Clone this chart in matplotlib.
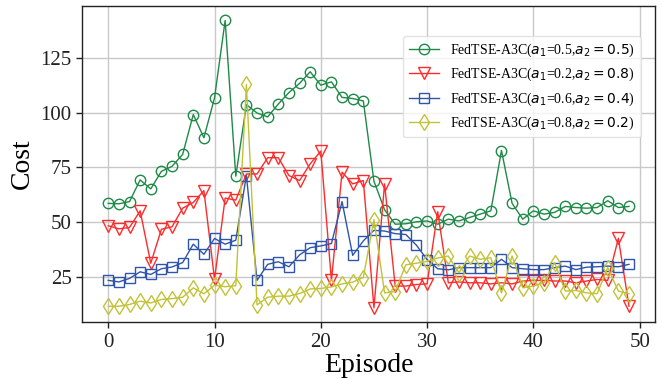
import numpy as np
import matplotlib
matplotlib.use("Agg")
import matplotlib.pyplot as plt

plt.rcParams['font.family'] = ['Liberation Serif', 'DejaVu Serif']
plt.rcParams['mathtext.fontset'] = 'dejavusans'

episodes = np.arange(50)

# Cost per episode
cost_55 = [58.6, 58.4, 59.4, 69.3, 65.2, 73.2, 75.5, 80.9, 99.1, 88.5,
           106.7, 142.0, 71.0, 103.6, 99.8, 98.0, 103.9, 109.1, 113.3, 118.6,
           112.5, 114.0, 106.9, 106.4, 105.3, 68.7, 55.7, 49.1, 49.3, 50.2,
           50.6, 49.1, 51.4, 50.6, 52.2, 53.7, 55.2, 82.7, 58.6, 51.4,
           55.2, 53.7, 54.5, 57.2, 56.7, 56.4, 56.7, 59.8, 56.7, 57.2]
cost_28 = [48.4, 47.0, 47.6, 55.2, 31.3, 46.8, 47.9, 56.4, 59.0, 64.4,
           24.0, 61.0, 60.1, 72.0, 72.0, 79.4, 79.4, 71.3, 69.0, 76.6,
           82.4, 23.5, 72.8, 67.5, 69.0, 11.0, 67.5, 20.9, 20.9, 21.6,
           21.9, 54.8, 22.4, 22.8, 22.4, 22.4, 21.9, 22.4, 21.9, 23.2,
           23.5, 23.5, 23.2, 23.2, 22.4, 23.2, 23.9, 23.5, 42.7, 11.7]
cost_64 = [23.5, 22.8, 24.4, 27.4, 26.2, 28.8, 29.6, 31.6, 40.0, 35.4,
           42.6, 40.0, 41.8, 71.3, 23.5, 30.8, 32.0, 29.7, 35.1, 38.4,
           39.2, 40.3, 59.4, 34.9, 41.5, 46.3, 46.0, 44.8, 44.4, 39.5,
           33.0, 28.8, 28.3, 29.3, 29.3, 29.3, 29.3, 33.1, 29.3, 28.8,
           28.4, 28.4, 29.3, 30.0, 28.4, 29.5, 29.7, 30.0, 29.7, 30.8]
cost_82 = [11.7, 11.7, 12.5, 14.0, 13.2, 14.8, 15.2, 15.8, 20.1, 17.4,
           21.3, 20.6, 21.1, 112.8, 12.3, 15.8, 16.3, 16.3, 17.5, 19.6,
           19.8, 20.5, 21.9, 22.7, 24.8, 51.2, 17.8, 18.4, 30.6, 31.3,
           32.2, 33.7, 34.6, 27.0, 34.6, 33.1, 33.8, 17.8, 34.6, 20.1,
           20.9, 22.4, 31.6, 18.6, 18.9, 17.8, 17.4, 29.3, 18.6, 17.4]

labels = [r'FedTSE-A3C($a_1$=0.5,$a_2 = 0.5$)',
          r'FedTSE-A3C($a_1$=0.2,$a_2 = 0.8$)',
          r'FedTSE-A3C($a_1$=0.6,$a_2 = 0.4$)',
          r'FedTSE-A3C($a_1$=0.8,$a_2 = 0.2$)']

fig, ax = plt.subplots(figsize=(6.63, 3.79), dpi=100)
fig.subplots_adjust(left=0.124, right=0.988, top=0.984, bottom=0.15)

ax.plot(episodes, cost_55, color='#1e8a48', marker='o', mfc='none', ms=7.5, lw=1, label=labels[0])
ax.plot(episodes, cost_28, color='#ff2a2a', marker='v', mfc='none', ms=8.5, lw=1, label=labels[1])
ax.plot(episodes, cost_64, color='#2f55aa', marker='s', mfc='none', ms=7.5, lw=1, label=labels[2])
ax.plot(episodes, cost_82, color='#c2c238', marker='d', mfc='none', ms=8.5, lw=1, label=labels[3])

ax.grid(True, color='#c8c8c8', lw=1)
ax.set_axisbelow(True)
for s in ax.spines.values():
    s.set_color('#222222')
    s.set_linewidth(1)
ax.tick_params(direction='out', length=4, width=1, labelsize=15, colors='#222222')
ax.set_xticks([0, 10, 20, 30, 40, 50])
ax.set_yticks([25, 50, 75, 100, 125])

ax.set_xlabel('Episode', fontsize=20, labelpad=1)
ax.set_ylabel('Cost', fontsize=20)

ax.legend(loc='upper right', bbox_to_anchor=(0.975, 0.905), borderaxespad=0,
          fontsize=10, handlelength=2.2, labelspacing=0.5, frameon=True,
          edgecolor='#dddddd', fancybox=True)

plt.savefig('out.png', dpi=100)
